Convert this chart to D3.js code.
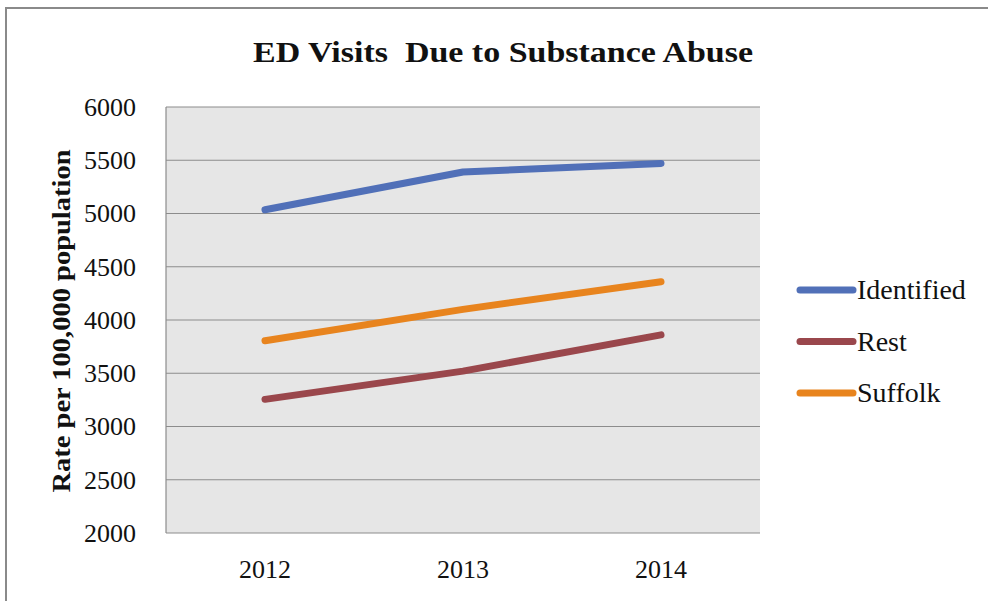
<!DOCTYPE html>
<html>
<head>
<meta charset="utf-8">
<script src="https://cdn.jsdelivr.net/npm/d3@7"></script>
<style>
  html, body { margin: 0; padding: 0; background: #fff; }
  svg { display: block; }
</style>
</head>
<body>
<svg id="chart" width="988" height="601"></svg>
<script>
// Data
const years = ["2012", "2013", "2014"];
const identified = [5035, 5390, 5470];
const rest = [3255, 3520, 3860];
const suffolk = [3805, 4100, 4360];
const seriesNames = ["Identified", "Rest", "Suffolk"];
const seriesColors = ["#5170b8", "#9a474c", "#e8841e"];
const yTicks = [2000, 2500, 3000, 3500, 4000, 4500, 5000, 5500, 6000];

const series = [identified, rest, suffolk].map((vals, i) => ({
  name: seriesNames[i], color: seriesColors[i],
  points: vals.map((v, j) => ({ year: years[j], value: v }))
}));

const svg = d3.select("#chart");
const font = "'Liberation Serif', 'Times New Roman', serif";

// Outer frame
svg.append("rect").attr("x", 6).attr("y", 8).attr("width", 1000).attr("height", 620)
  .attr("fill", "#fff").attr("stroke", "#8a8a8a").attr("stroke-width", 2);

const plot = { left: 166, top: 107, right: 760, bottom: 533 };

const x = d3.scaleBand().domain(years).range([plot.left, plot.right]).padding(0);
const y = d3.scaleLinear().domain([2000, 6000]).range([plot.bottom, plot.top]);

// Plot background
svg.append("rect")
  .attr("x", plot.left).attr("y", plot.top)
  .attr("width", plot.right - plot.left).attr("height", plot.bottom - plot.top)
  .attr("fill", "#e6e6e6");

// Gridlines
svg.append("g").selectAll("line").data(yTicks).join("line")
  .attr("x1", plot.left).attr("x2", plot.right)
  .attr("y1", d => y(d)).attr("y2", d => y(d))
  .attr("stroke", "#8c8c8c").attr("stroke-width", 1.2);

// Left axis line
svg.append("line")
  .attr("x1", plot.left).attr("x2", plot.left)
  .attr("y1", plot.top).attr("y2", plot.bottom)
  .attr("stroke", "#8c8c8c").attr("stroke-width", 1.2);

// Y axis
const yAxis = d3.axisLeft(y).tickValues(yTicks).tickFormat(d3.format("d")).tickSize(0).tickPadding(30);
const gy = svg.append("g").attr("transform", `translate(${plot.left},0)`).call(yAxis);
gy.select(".domain").remove();
gy.selectAll("text").attr("font-family", font).attr("font-size", 26).attr("fill", "#111");

// X axis
const xAxis = d3.axisBottom(x).tickSize(0).tickPadding(27);
const gx = svg.append("g").attr("transform", `translate(0,${plot.bottom})`).call(xAxis);
gx.select(".domain").remove();
gx.selectAll("text").attr("font-family", font).attr("font-size", 26).attr("fill", "#111");

// Y axis title
svg.append("text")
  .attr("transform", `translate(70,${321}) rotate(-90)`)
  .attr("text-anchor", "middle")
  .attr("font-family", font).attr("font-weight", "bold").attr("font-size", 26)
  .attr("textLength", 343).attr("lengthAdjust", "spacingAndGlyphs")
  .attr("fill", "#111")
  .text("Rate per 100,000 population");

// Title
svg.append("text")
  .attr("x", 503).attr("y", 62)
  .attr("text-anchor", "middle")
  .attr("font-family", font).attr("font-weight", "bold").attr("font-size", 29)
  .attr("textLength", 500).attr("lengthAdjust", "spacingAndGlyphs")
  .style("white-space", "pre")
  .attr("fill", "#111")
  .text("ED Visits  Due to Substance Abuse");

// Lines
const line = d3.line()
  .x(d => x(d.year) + x.bandwidth() / 2)
  .y(d => y(d.value));

svg.append("g").selectAll("path").data(series).join("path")
  .attr("d", d => line(d.points))
  .attr("fill", "none")
  .attr("stroke", d => d.color)
  .attr("stroke-width", 7)
  .attr("stroke-linecap", "round")
  .attr("stroke-linejoin", "round");

// Legend
const legend = svg.append("g").selectAll("g").data(series).join("g")
  .attr("transform", (d, i) => `translate(0,${290 + i * 51.5})`);
legend.append("line")
  .attr("x1", 800).attr("x2", 853).attr("y1", 0).attr("y2", 0)
  .attr("stroke", d => d.color).attr("stroke-width", 7).attr("stroke-linecap", "round");
legend.append("text")
  .attr("x", 857).attr("y", 9)
  .attr("font-family", font).attr("font-size", 28).attr("fill", "#111")
  .text(d => d.name);
</script>
</body>
</html>
